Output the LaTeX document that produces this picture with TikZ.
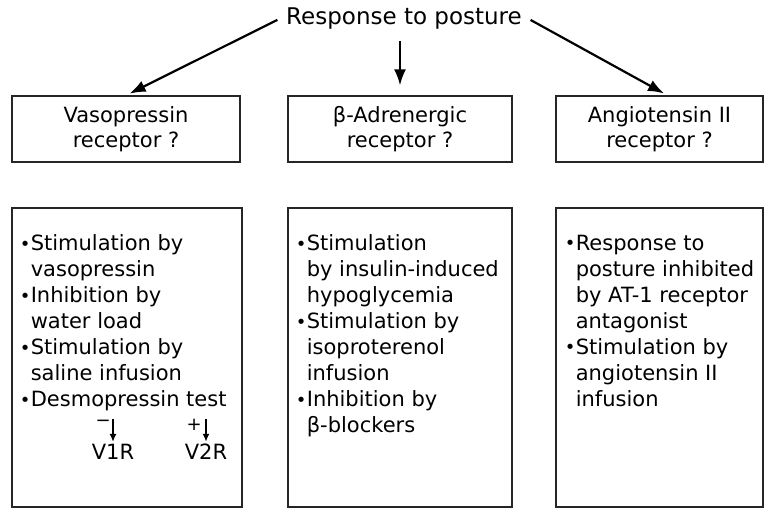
\documentclass[tikz,border=0pt]{standalone}
\usepackage{fontspec}
\setmainfont{DejaVu Sans}
\usetikzlibrary{positioning,arrows.meta,calc}

\tikzset{
  recbox/.style={draw=black!85, line width=0.6pt, minimum height=33pt,
    align=center, inner sep=0pt, font=\fontsize{10.5}{12.5}\selectfont},
  findbox/.style={draw=black!85, line width=0.6pt, minimum height=149.5pt, inner sep=0pt},
  findings/.style={anchor=north west, align=left, inner sep=0pt,
    font=\fontsize{10.5}{13}\selectfont},
  arr/.style={-{Latex[length=8pt,width=6pt]}, line width=1.1pt},
  tinyarr/.style={-{Latex[length=4pt,width=3.5pt]}, line width=0.8pt},
}
\newcommand{\bul}{\makebox[5.5pt][l]{\raisebox{0.3pt}{\small•}}}
\newcommand{\ind}{\hspace*{5.5pt}}

\begin{document}
\begin{tikzpicture}[x=0.5pt,y=-0.5pt]
  \useasboundingbox (0,0) rectangle (769,512);

  \node[font=\fontsize{11.5}{14}\selectfont] (posture) at (404,19) {Response to posture};

  % receptor boxes
  \node[recbox, minimum width=114pt] (vaso) at (126,129) {Vasopressin\\receptor ?};
  \node[recbox, minimum width=112pt] (adren) at (400,129) {β-Adrenergic\\receptor ?};
  \node[recbox, minimum width=103.5pt] (angio) at (659.5,129) {Angiotensin II\\receptor ?};

  \draw[arr, shorten <=1pt, shorten >=2pt] (posture.west) -- (vaso.north);
  \draw[arr, shorten <=2pt, shorten >=5pt] (posture.south) ++(-4,0) coordinate (mid) -- (mid |- adren.north);
  \draw[arr, shorten <=1pt, shorten >=2pt] (posture.east) -- ($(angio.north)+(8,0)$);

  % evidence boxes
  \node[findbox, minimum width=115pt] (vasofind) at (127,357.5) {};
  \node[findbox, minimum width=112pt] (adrenfind) at (400,357.5) {};
  \node[findbox, minimum width=103.5pt] (angiofind) at (659.5,357.5) {};

  \node[findings] (vasotext) at ($(vasofind.north west)+(8,27)$)
    {\bul Stimulation by\\ \ind vasopressin\\
     \bul Inhibition by\\ \ind water load\\
     \bul Stimulation by\\ \ind saline infusion\\
     \bul Desmopressin test};
  \node[findings] (adrentext) at ($(adrenfind.north west)+(8,27)$)
    {\bul Stimulation\\ \ind by insulin-induced\\ \ind hypoglycemia\\
     \bul Stimulation by\\ \ind isoproterenol\\ \ind infusion\\
     \bul Inhibition by\\ \ind β-blockers};
  \node[findings] (angiotext) at ($(angiofind.north west)+(9,27)$)
    {\bul Response to\\ \ind posture inhibited\\ \ind by AT-1 receptor\\ \ind antagonist\\
     \bul Stimulation by\\ \ind angiotensin II\\ \ind infusion};

  % desmopressin test
  \node[font=\fontsize{10.5}{13}\selectfont, inner sep=1pt] (v1r) at (113,452) {V1R};
  \node[font=\fontsize{10.5}{13}\selectfont, inner sep=1pt] (v2r) at (206,452) {V2R};
  \coordinate (v1top) at (113,419);
  \coordinate (v2top) at (206,419);
  \draw[tinyarr] (v1top) -- (v1r.north);
  \draw[tinyarr] (v2top) -- (v2r.north);
  \node[font=\small, inner sep=1pt, left=0pt of v1top, yshift=-2pt] {−};
  \node[font=\small, inner sep=1pt, left=1pt of v2top, yshift=-3pt] {+};
\end{tikzpicture}
\end{document}
